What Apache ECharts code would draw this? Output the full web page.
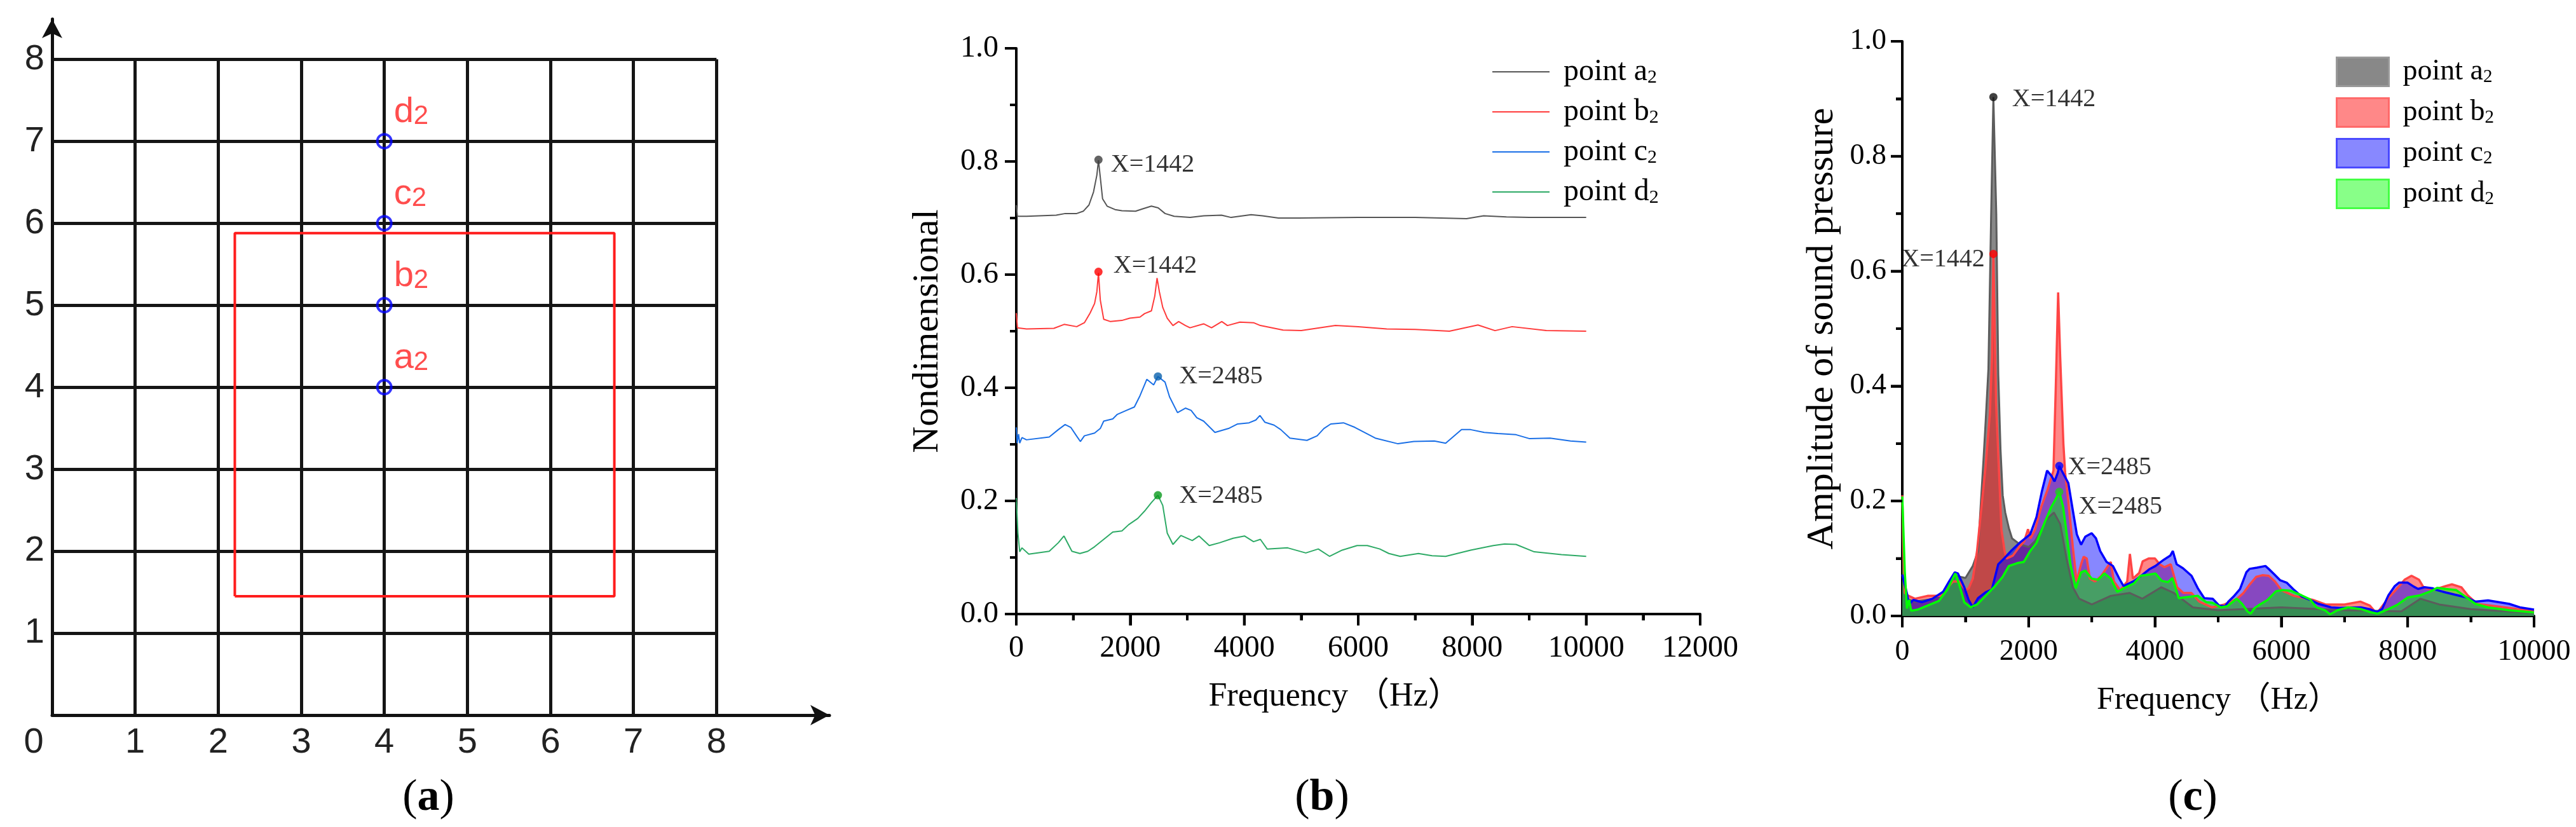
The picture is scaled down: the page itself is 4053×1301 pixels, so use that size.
<!DOCTYPE html>
<html>
<head>
<meta charset="utf-8">
<script src="https://cdn.jsdelivr.net/npm/echarts@6/dist/echarts.min.js"></script>
<style>
  html, body { margin: 0; padding: 0; background: #fff; }
  .panel { position: absolute; left: 0; top: 0; width: 4053px; height: 1301px; }
</style>
</head>
<body>
<div id="panelA" class="panel"></div>
<div id="panelB" class="panel"></div>
<div id="panelC" class="panel"></div>
<script>
// ---------- panel (a): measuring grid ----------
const gridTicks = [1, 2, 3, 4, 5, 6, 7, 8]
const rectX = [2.2, 6.77]
const rectY = [1.45, 5.88]
const pointX = 4
const pointY = [4, 5, 6, 7]
const pointNames = ['a', 'b', 'c', 'd']

// ---------- tick positions for panels (b) and (c) ----------
const bXMajor = [0, 2000, 4000, 6000, 8000, 10000, 12000]
const bXMinor = [1000, 3000, 5000, 7000, 9000, 11000]
const cXMajor = [0, 2000, 4000, 6000, 8000, 10000]
const cXMinor = [1000, 3000, 5000, 7000, 9000]
const yMajor = [0, 0.2, 0.4, 0.6, 0.8, 1.0]
const yMinor = [0.1, 0.3, 0.5, 0.7, 0.9]

// ---------- panel (b): offset spectra ----------
const bA = [[0,0.723],[20,0.703],[180,0.703],[700,0.705],[860,0.708],[1060,0.708],[1175,0.712],[1275,0.723],[1355,0.746],[1414,0.776],[1442,0.802],[1474,0.772],[1514,0.734],[1594,0.721],[1733,0.715],[1853,0.713],[2092,0.712],[2211,0.716],[2371,0.721],[2490,0.718],[2610,0.708],[2770,0.703],[3050,0.701],[3290,0.704],[3600,0.705],[3770,0.701],[4120,0.706],[4320,0.704],[4600,0.700],[4960,0.700],[6000,0.701],[7000,0.701],[7900,0.699],[8200,0.704],[8600,0.702],[9000,0.701],[10000,0.701]]
const bB = [[0,0.532],[20,0.506],[180,0.504],[660,0.505],[840,0.512],[1060,0.508],[1195,0.515],[1295,0.532],[1374,0.549],[1414,0.570],[1442,0.603],[1474,0.555],[1534,0.521],[1653,0.517],[1853,0.519],[1992,0.523],[2171,0.525],[2251,0.531],[2371,0.536],[2430,0.562],[2470,0.594],[2510,0.570],[2570,0.542],[2649,0.523],[2749,0.510],[2849,0.517],[2968,0.510],[3048,0.506],[3287,0.513],[3426,0.506],[3606,0.517],[3705,0.510],[3924,0.516],[4163,0.515],[4283,0.510],[4681,0.502],[5000,0.501],[5600,0.510],[6000,0.508],[6500,0.504],[7000,0.503],[7600,0.500],[8100,0.511],[8400,0.501],[8700,0.508],[9300,0.501],[10000,0.500]]
const bC = [[0,0.330],[15,0.302],[40,0.318],[60,0.302],[100,0.312],[179,0.308],[578,0.313],[737,0.326],[857,0.335],[956,0.330],[1056,0.315],[1124,0.305],[1195,0.315],[1374,0.320],[1474,0.328],[1534,0.341],[1693,0.345],[1773,0.353],[1932,0.360],[2072,0.366],[2171,0.386],[2291,0.415],[2410,0.405],[2485,0.420],[2610,0.410],[2689,0.384],[2829,0.356],[2968,0.364],[3068,0.360],[3167,0.347],[3287,0.341],[3486,0.321],[3725,0.328],[3884,0.336],[4084,0.338],[4203,0.343],[4275,0.351],[4363,0.339],[4522,0.334],[4641,0.326],[4801,0.311],[5100,0.307],[5279,0.315],[5398,0.328],[5518,0.336],[5741,0.338],[5940,0.330],[6299,0.311],[6697,0.301],[6976,0.305],[7335,0.306],[7534,0.302],[7813,0.326],[7972,0.326],[8211,0.321],[8450,0.319],[8769,0.317],[9008,0.310],[9367,0.311],[9725,0.306],[10000,0.304]]
const bD = [[0,0.205],[28,0.143],[60,0.110],[100,0.117],[219,0.106],[578,0.111],[737,0.126],[837,0.138],[976,0.111],[1116,0.107],[1255,0.111],[1374,0.119],[1534,0.132],[1693,0.145],[1853,0.147],[1972,0.158],[2131,0.169],[2251,0.182],[2371,0.197],[2485,0.210],[2570,0.192],[2649,0.143],[2749,0.123],[2888,0.139],[3088,0.130],[3207,0.138],[3386,0.121],[3566,0.126],[3805,0.134],[4004,0.138],[4163,0.128],[4283,0.132],[4402,0.115],[4761,0.117],[5080,0.108],[5299,0.115],[5498,0.102],[5717,0.113],[5980,0.121],[6159,0.121],[6378,0.115],[6538,0.107],[6737,0.102],[7056,0.107],[7295,0.103],[7534,0.102],[7972,0.113],[8371,0.121],[8570,0.124],[8769,0.123],[9088,0.110],[9566,0.105],[10000,0.102]]
const bPeaks = [[1442,0.803],[1442,0.605],[2485,0.420],[2485,0.210]]

// ---------- panel (c): amplitude spectra ----------
const cA = [[0,0.20],[20,0.06],[60,0.03],[200,0.025],[500,0.03],[700,0.045],[840,0.07],[1000,0.066],[1116,0.087],[1200,0.113],[1234,0.18],[1284,0.27],[1320,0.34],[1363,0.43],[1405,0.69],[1442,0.903],[1488,0.70],[1520,0.42],[1555,0.29],[1590,0.21],[1630,0.18],[1687,0.153],[1738,0.135],[1855,0.125],[2000,0.12],[2100,0.13],[2200,0.15],[2300,0.17],[2400,0.18],[2500,0.16],[2600,0.10],[2700,0.05],[2800,0.03],[3000,0.02],[3300,0.035],[3600,0.04],[3800,0.03],[4100,0.05],[4300,0.04],[4600,0.015],[5000,0.01],[6000,0.015],[7000,0.01],[7900,0.008],[8200,0.03],[8500,0.02],[9000,0.012],[10000,0.005]]
const cB = [[0,0.21],[20,0.10],[40,0.04],[100,0.035],[200,0.03],[400,0.035],[600,0.035],[800,0.06],[900,0.06],[1000,0.045],[1050,0.048],[1116,0.065],[1183,0.113],[1250,0.186],[1318,0.26],[1385,0.35],[1420,0.45],[1442,0.63],[1485,0.37],[1535,0.24],[1570,0.15],[1620,0.113],[1650,0.10],[1750,0.105],[1850,0.12],[1930,0.13],[1990,0.151],[2030,0.135],[2100,0.15],[2200,0.19],[2300,0.22],[2393,0.253],[2430,0.40],[2467,0.563],[2500,0.45],[2550,0.30],[2578,0.249],[2628,0.20],[2700,0.12],[2760,0.06],[2830,0.09],[2870,0.103],[2920,0.10],[2970,0.065],[3050,0.06],[3150,0.07],[3300,0.094],[3350,0.06],[3450,0.045],[3560,0.06],[3603,0.108],[3650,0.065],[3750,0.075],[3805,0.095],[3900,0.10],[4000,0.10],[4074,0.09],[4150,0.085],[4250,0.09],[4350,0.05],[4450,0.04],[4578,0.04],[4700,0.025],[4900,0.015],[5100,0.02],[5300,0.03],[5400,0.04],[5500,0.055],[5600,0.068],[5700,0.071],[5800,0.07],[5900,0.06],[6000,0.045],[6200,0.035],[6500,0.028],[6700,0.02],[7000,0.02],[7250,0.025],[7400,0.018],[7510,0.004],[7700,0.032],[7850,0.05],[7950,0.063],[8060,0.070],[8180,0.063],[8250,0.05],[8400,0.045],[8600,0.052],[8700,0.055],[8850,0.05],[8950,0.036],[9100,0.021],[9600,0.014],[10000,0.008]]
const cC = [[0,0.072],[74,0.039],[108,0.020],[175,0.028],[309,0.024],[477,0.030],[645,0.042],[746,0.061],[830,0.076],[881,0.074],[981,0.050],[1049,0.028],[1116,0.015],[1200,0.031],[1318,0.041],[1418,0.046],[1519,0.090],[1620,0.101],[1721,0.113],[1855,0.127],[2024,0.142],[2124,0.172],[2208,0.216],[2292,0.253],[2360,0.244],[2410,0.234],[2461,0.249],[2485,0.261],[2561,0.245],[2629,0.231],[2696,0.186],[2763,0.142],[2830,0.124],[2897,0.138],[2998,0.144],[3066,0.135],[3133,0.113],[3234,0.094],[3334,0.087],[3435,0.065],[3502,0.052],[3671,0.061],[3805,0.072],[3906,0.081],[4007,0.087],[4141,0.098],[4242,0.105],[4282,0.113],[4343,0.090],[4444,0.083],[4578,0.070],[4679,0.048],[4780,0.031],[4914,0.030],[5015,0.018],[5110,0.017],[5161,0.025],[5245,0.034],[5346,0.047],[5446,0.076],[5497,0.082],[5614,0.084],[5748,0.087],[5799,0.082],[5883,0.073],[5983,0.062],[6084,0.058],[6185,0.047],[6319,0.034],[6453,0.028],[6587,0.021],[6789,0.015],[6923,0.014],[7258,0.015],[7393,0.012],[7510,0.007],[7594,0.012],[7695,0.036],[7795,0.052],[7862,0.058],[7997,0.058],[8097,0.051],[8164,0.047],[8265,0.050],[8399,0.048],[8466,0.045],[8601,0.041],[8936,0.032],[9070,0.025],[9272,0.027],[9607,0.021],[9775,0.015],[10000,0.011]]
const cD = [[0,0.208],[40,0.076],[74,0.013],[108,0.028],[141,0.009],[242,0.011],[376,0.017],[578,0.026],[713,0.046],[840,0.074],[914,0.050],[981,0.024],[1082,0.015],[1183,0.020],[1318,0.035],[1452,0.050],[1587,0.068],[1687,0.087],[1822,0.092],[1923,0.094],[2024,0.113],[2124,0.127],[2259,0.164],[2360,0.190],[2427,0.203],[2485,0.216],[2545,0.190],[2595,0.149],[2662,0.090],[2746,0.048],[2830,0.076],[2897,0.079],[2998,0.065],[3099,0.063],[3200,0.074],[3301,0.065],[3402,0.042],[3502,0.048],[3671,0.057],[3771,0.070],[3906,0.072],[4007,0.074],[4108,0.061],[4208,0.059],[4276,0.066],[4376,0.031],[4511,0.033],[4679,0.035],[4813,0.024],[4909,0.023],[5044,0.015],[5144,0.017],[5295,0.030],[5379,0.021],[5463,0.008],[5513,0.004],[5580,0.014],[5648,0.019],[5782,0.028],[5916,0.043],[6017,0.045],[6151,0.044],[6252,0.039],[6319,0.036],[6453,0.029],[6554,0.015],[6688,0.010],[6772,0.003],[6889,0.010],[7057,0.015],[7258,0.012],[7426,0.006],[7527,0.004],[7695,0.012],[7829,0.019],[7997,0.032],[8198,0.036],[8366,0.043],[8466,0.049],[8601,0.047],[8768,0.045],[8936,0.032],[9070,0.021],[9272,0.015],[9607,0.010],[10000,0.006]]
const cPeaks = [[1442,0.903],[1442,0.630],[2485,0.261],[2485,0.216]]
const peakLabels = ['X=1442', 'X=1442', 'X=2485', 'X=2485']

// ---------- styles ----------
const serif = "'Liberation Serif', 'Noto Sans CJK SC', serif"
const sans = "'Liberation Sans', Arial, sans-serif"
const bColors = ['#555555', '#ff3b3b', '#1a6fe6', '#2eaa66']
const bDotColors = ['#3c3c3c', '#ff0000', '#0a62ad', '#0a9a1e']
const cLineColors = ['#5c5c5c', '#ff4545', '#0000ff', '#00ff00']
const cFillColors = ['#888888', 'rgba(255,0,0,0.47)', 'rgba(0,0,255,0.47)', 'rgba(0,255,0,0.47)']
const cSwatch = [['#888888', '#999999'], ['#ff8888', '#ff6a6a'], ['#8888ff', '#4a4aff'], ['#88ff88', '#44ff44']]
const cDotColors = ['#111111', '#ff0000', '#0000ff', '#22cc22']
const bLabelPos = [['right', 13, [0, 8]], ['right', 17, [0, -9]], ['right', 27, [0, 0]], ['right', 27, [0, 1]]]
const cLabelPos = [['right', 23, [0, 4]], ['left', 7, [0, 9]], ['right', 7, [0, 2]], ['right', 24, [0, 24]]]

const legendRich = (size, sub, shift) => ({
  t: { fontSize: size, fontFamily: serif, color: '#000', lineHeight: size, padding: [0, 0, 0, 17] },
  s: { fontSize: sub, fontFamily: serif, color: '#000', lineHeight: sub, padding: [shift, 0, 0, 0], verticalAlign: 'bottom' }
})
const legendFormatter = name => '{t|point ' + name + '}{s|2}'

const caption = (t, x) => ({
  type: 'text', x, y: 1256,
  style: {
    text: '({k|' + t + '})', font: '70px ' + serif, fill: '#000',
    align: 'center', verticalAlign: 'middle',
    rich: { k: { fontSize: 70, fontFamily: serif, fontWeight: 'bold', fill: '#000' } }
  }
})

const tickLine = { color: '#000', width: 4 }
const valueAxis = opts => Object.assign({
  type: 'value',
  axisLine: { show: true, onZero: false, lineStyle: { color: '#000', width: 4 } },
  axisTick: { show: true, length: 18, lineStyle: tickLine },
  minorTick: { show: true, splitNumber: 2, length: 10, lineStyle: tickLine },
  splitLine: { show: false },
  minorSplitLine: { show: false }
}, opts)

// tick bars placed with the chart's own scales (convertToPixel)
const tickGraphics = (chart, xMajor, xMinor) => {
  const axisY = chart.convertToPixel({ yAxisIndex: 0 }, 0)
  const axisX = chart.convertToPixel({ xAxisIndex: 0 }, 0)
  const out = []
  const xBar = (v, len) => {
    const px = chart.convertToPixel({ xAxisIndex: 0 }, v)
    out.push({ type: 'rect', silent: true, z: 100, shape: { x: px - 2, y: axisY, width: 4, height: len }, style: { fill: '#000' } })
  }
  const yBar = (v, len) => {
    const py = chart.convertToPixel({ yAxisIndex: 0 }, v)
    out.push({ type: 'rect', silent: true, z: 100, shape: { x: axisX - len, y: py - 2, width: len, height: 4 }, style: { fill: '#000' } })
  }
  xMajor.forEach(v => xBar(v, 18))
  xMinor.forEach(v => xBar(v, 10))
  yMajor.forEach(v => yBar(v, 18))
  yMinor.forEach(v => yBar(v, 10))
  return out
}

// ===== panel (a) =====
const gridLines = []
gridTicks.forEach(v => {
  gridLines.push({ coords: [[0, v], [gridTicks[gridTicks.length - 1], v]] })
  gridLines.push({ coords: [[v, 0], [v, gridTicks[gridTicks.length - 1]]] })
})
const optionA = {
  animation: false,
  backgroundColor: '#fff',
  grid: { left: 82, top: 30, width: 1223, height: 1095 },
  xAxis: {
    type: 'value', min: 0, max: 9.36, interval: 1,
    axisLine: { show: true, onZero: false, symbol: ['none', 'arrow'], symbolSize: [24, 30], lineStyle: { color: '#111', width: 5 } },
    axisTick: { show: false },
    splitLine: { show: false },
    axisLabel: {
      margin: 16, fontSize: 56, fontFamily: sans, color: '#222',
      formatter: v => v === 0 ? '{o|0}' : (v <= 8 ? String(v) : ''),
      rich: { o: { fontSize: 56, fontFamily: sans, color: '#222', padding: [0, 58, 0, 0] } }
    }
  },
  yAxis: {
    type: 'value', min: 0, max: 8.49, interval: 1,
    axisLine: { show: true, onZero: false, symbol: ['none', 'arrow'], symbolSize: [24, 30], lineStyle: { color: '#111', width: 5 } },
    axisTick: { show: false },
    splitLine: { show: false },
    axisLabel: {
      margin: 12, fontSize: 56, fontFamily: sans, color: '#222', padding: [26, 0, 0, 0],
      formatter: v => (v >= 1 && v <= 8) ? String(v) : ''
    }
  },
  graphic: [caption('a', 674)],
  series: [
    {
      type: 'lines', coordinateSystem: 'cartesian2d', data: gridLines, silent: true,
      lineStyle: { color: '#151515', width: 5, opacity: 1 }
    },
    {
      type: 'line', symbol: 'none', silent: true, z: 3,
      data: [[rectX[0], rectY[0]], [rectX[1], rectY[0]], [rectX[1], rectY[1]], [rectX[0], rectY[1]], [rectX[0], rectY[0]]],
      lineStyle: { color: '#ff1c1c', width: 4 }
    },
    {
      type: 'scatter', z: 4, symbolSize: 22,
      data: pointY.map(y => [pointX, y]),
      itemStyle: { color: 'rgba(0,0,0,0)', borderColor: '#0000ff', borderWidth: 4 },
      label: {
        show: true, position: 'right', distance: 2, offset: [0, -46],
        formatter: p => '{m|' + pointNames[p.dataIndex] + '}{s|2}',
        rich: {
          m: { fontSize: 56, fontFamily: sans, color: '#ff2020', lineHeight: 56 },
          s: { fontSize: 42, fontFamily: sans, color: '#ff2020', lineHeight: 42, padding: [30, 0, 0, 0], verticalAlign: 'bottom' }
        }
      }
    }
  ]
}

// ===== panel (b) =====
const optionB = {
  animation: false,
  backgroundColor: 'transparent',
  grid: { left: 1599, top: 76, width: 1076, height: 890 },
  xAxis: valueAxis({
    min: 0, max: 12000, interval: 2000,
    axisLabel: { margin: 30, fontSize: 48, fontFamily: serif, color: '#000', formatter: v => String(v) },
    name: 'Frequency （Hz）', nameLocation: 'middle', nameGap: 104,
    nameTextStyle: { fontSize: 52, fontFamily: serif, color: '#000', padding: [0, 74, 0, 0] }
  }),
  yAxis: valueAxis({
    min: 0, max: 1, interval: 0.2,
    axisLabel: { margin: 28, fontSize: 48, fontFamily: serif, color: '#000', formatter: v => v.toFixed(1) },
    name: 'Nondimensional', nameLocation: 'middle', nameGap: 110,
    nameTextStyle: { fontSize: 58, fontFamily: serif, color: '#000' }
  }),
  legend: {
    orient: 'vertical', left: 2343, top: 68, itemWidth: 90, itemHeight: 2, itemGap: -1,
    icon: 'rect', selectedMode: false,
    data: pointNames.map((n, i) => ({ name: n, itemStyle: { color: bColors[i] } })),
    formatter: legendFormatter,
    textStyle: { rich: legendRich(48, 30, 34) }
  },
  graphic: [caption('b', 2080)],
  series: [
    ...[bA, bB, bC, bD].map((d, i) => ({
      name: pointNames[i], type: 'line', data: d, symbol: 'none', silent: true,
      itemStyle: { color: bColors[i] },
      lineStyle: { color: bColors[i], width: 2 }
    })),
    {
      type: 'scatter', z: 6, symbolSize: 13,
      data: bPeaks.map((p, i) => ({
        value: p,
        itemStyle: { color: bDotColors[i] },
        label: {
          show: true, formatter: peakLabels[i], position: bLabelPos[i][0], distance: bLabelPos[i][1], offset: bLabelPos[i][2],
          fontSize: 40, fontFamily: serif, color: '#000'
        }
      }))
    }
  ]
}

// ===== panel (c) =====
const optionC = {
  animation: false,
  backgroundColor: 'transparent',
  grid: { left: 2993, top: 65, width: 994, height: 904 },
  xAxis: valueAxis({
    min: 0, max: 10000, interval: 2000,
    axisLabel: { margin: 34, fontSize: 46, fontFamily: serif, color: '#000', formatter: v => String(v) },
    name: 'Frequency （Hz）', nameLocation: 'middle', nameGap: 108,
    nameTextStyle: { fontSize: 50, fontFamily: serif, color: '#000' }
  }),
  yAxis: valueAxis({
    min: 0, max: 1, interval: 0.2,
    axisLabel: { margin: 25, fontSize: 46, fontFamily: serif, color: '#000', formatter: v => v.toFixed(1) },
    name: 'Amplitude of sound pressure', nameLocation: 'middle', nameGap: 96,
    nameTextStyle: { fontSize: 60, fontFamily: serif, color: '#000' }
  }),
  legend: {
    orient: 'vertical', left: 3670, top: 68, itemWidth: 82, itemHeight: 45, itemGap: 0,
    icon: 'rect', selectedMode: false,
    data: pointNames.map((n, i) => ({ name: n, itemStyle: { color: cSwatch[i][0], borderColor: cSwatch[i][1], borderWidth: 3 } })),
    formatter: legendFormatter,
    textStyle: { rich: legendRich(46, 29, 34) }
  },
  graphic: [caption('c', 3450)],
  series: [
    ...[cA, cB, cC, cD].map((d, i) => ({
      name: pointNames[i], type: 'line', data: d, symbol: 'none', silent: true,
      itemStyle: { color: cSwatch[i][0] },
      lineStyle: { color: cLineColors[i], width: i === 0 ? 3 : 3.5 },
      areaStyle: { color: cFillColors[i], opacity: 1 }
    })),
    {
      type: 'scatter', z: 6, symbolSize: 13,
      data: cPeaks.map((p, i) => ({
        value: p,
        itemStyle: { color: cDotColors[i] },
        label: {
          show: true, formatter: peakLabels[i], position: cLabelPos[i][0], distance: cLabelPos[i][1], offset: cLabelPos[i][2],
          fontSize: 40, fontFamily: serif, color: '#000'
        }
      }))
    }
  ]
}

echarts.init(document.getElementById('panelA')).setOption(optionA)

const chartB = echarts.init(document.getElementById('panelB'))
chartB.setOption(optionB)
chartB.setOption({ graphic: [caption('b', 2080), ...tickGraphics(chartB, bXMajor, bXMinor)] })

const chartC = echarts.init(document.getElementById('panelC'))
chartC.setOption(optionC)
chartC.setOption({ graphic: [caption('c', 3450), ...tickGraphics(chartC, cXMajor, cXMinor)] })
</script>
</body>
</html>
